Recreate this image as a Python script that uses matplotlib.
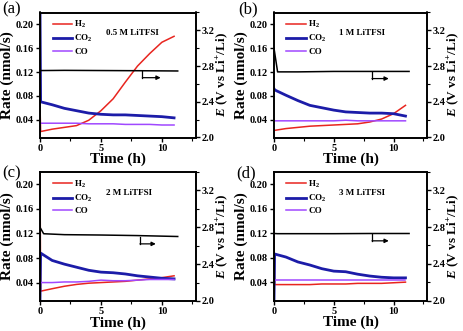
import matplotlib
matplotlib.use("Agg")
import matplotlib.pyplot as plt
from matplotlib.ticker import MultipleLocator, FormatStrFormatter

plt.rcParams['font.family'] = 'serif'
plt.rcParams['font.serif'] = ['Liberation Serif', 'DejaVu Serif']
plt.rcParams['font.weight'] = 'bold'
plt.rcParams['mathtext.fontset'] = 'custom'
plt.rcParams['mathtext.rm'] = 'Liberation Serif:bold'
plt.rcParams['mathtext.it'] = 'Liberation Serif:bold:italic'
plt.rcParams['mathtext.bf'] = 'Liberation Serif:bold'

# time grid for the gas rates (first point = initial spike at t=0)
hours = [0.0, 0.05, 1, 2, 3, 4, 5, 6, 7, 8, 9, 10, 11]
# time grid for the potential curves
volt_hours = [0.0, 0.3, 2, 5, 8, 11.3]

panel_labels = ["(a)", "(b)", "(c)", "(d)"]
conc_labels = ["0.5 M LiTFSI", "1 M LiTFSI", "2 M LiTFSI", "3 M LiTFSI"]

h2_a = [0.065, 0.020, 0.024, 0.027, 0.030, 0.039, 0.055, 0.075, 0.103, 0.130, 0.151, 0.170, 0.180]
co2_a = [0.230, 0.070, 0.065, 0.059, 0.055, 0.051, 0.049, 0.048, 0.048, 0.047, 0.046, 0.045, 0.043]
co_a = [0.034, 0.034, 0.034, 0.034, 0.034, 0.033, 0.033, 0.033, 0.032, 0.032, 0.032, 0.031, 0.031]
volt_a = [2.75, 2.75, 2.752, 2.75, 2.748, 2.745]

h2_b = [0.022, 0.022, 0.025, 0.027, 0.029, 0.030, 0.031, 0.032, 0.033, 0.036, 0.041, 0.050, 0.064]
co2_b = [0.092, 0.090, 0.081, 0.072, 0.064, 0.060, 0.056, 0.053, 0.052, 0.051, 0.051, 0.050, 0.046]
co_b = [0.038, 0.038, 0.038, 0.038, 0.038, 0.038, 0.038, 0.039, 0.038, 0.038, 0.038, 0.038, 0.038]
volt_b = [3.0, 2.735, 2.735, 2.74, 2.74, 2.74]

h2_c = [0.230, 0.026, 0.030, 0.034, 0.037, 0.039, 0.040, 0.041, 0.042, 0.044, 0.046, 0.048, 0.051]
co2_c = [0.010, 0.088, 0.076, 0.070, 0.065, 0.060, 0.057, 0.056, 0.054, 0.051, 0.049, 0.047, 0.046]
co_c = [0.040, 0.040, 0.040, 0.041, 0.041, 0.042, 0.044, 0.043, 0.043, 0.044, 0.045, 0.045, 0.045]
volt_c = [2.80, 2.73, 2.72, 2.716, 2.71, 2.70]

h2_d = [0.125, 0.036, 0.036, 0.036, 0.036, 0.037, 0.037, 0.037, 0.038, 0.038, 0.038, 0.039, 0.040]
co2_d = [0.010, 0.086, 0.081, 0.073, 0.068, 0.062, 0.058, 0.057, 0.053, 0.050, 0.048, 0.047, 0.047]
co_d = [0.043, 0.043, 0.043, 0.043, 0.043, 0.043, 0.043, 0.043, 0.043, 0.043, 0.043, 0.043, 0.043]
volt_d = [2.73, 2.728, 2.728, 2.728, 2.73, 2.73]

h2_all = [h2_a, h2_b, h2_c, h2_d]
co2_all = [co2_a, co2_b, co2_c, co2_d]
co_all = [co_a, co_b, co_c, co_d]
volt_all = [volt_a, volt_b, volt_c, volt_d]

RED = '#e8251f'
BLUE = '#1c1ca8'
PURPLE = '#a048ff'

W, H = 464, 331
boxes = [(40, 12.5, 156, 125), (274, 12.5, 153, 125),
         (40, 172, 156, 129), (274, 172, 153, 128.5)]
arrows = [(8.4, 2.74, 2.67, 9.9), (8.2, 2.73, 2.66, 9.6),
          (8.2, 2.69, 2.62, 9.5), (8.2, 2.72, 2.65, 9.6)]
letter_pos = [(2, 1), (238, 1), (2, 165), (236, 165)]

fig = plt.figure(figsize=(W / 100, H / 100), dpi=100)

for i in range(4):
    x0, y0, w, h = boxes[i]
    ax = fig.add_axes([x0 / W, 1 - (y0 + h) / H, w / W, h / H])
    ax2 = ax.twinx()

    ax.plot(hours, h2_all[i], color=RED, lw=1.1, label='H$_2$')
    ax.plot(hours, co2_all[i], color=BLUE, lw=2.0, label='CO$_2$')
    ax.plot(hours, co_all[i], color=PURPLE, lw=1.1, label='CO')
    ax2.plot(volt_hours, volt_all[i], color='black', lw=1.1)

    # arrow pointing to the right axis
    ax_x, v_top, v_bot, ax_end = arrows[i]
    ax2.plot([ax_x, ax_x], [v_top, v_bot], color='black', lw=0.9)
    ax2.annotate('', xy=(ax_end, v_bot), xytext=(ax_x, v_bot),
                 arrowprops=dict(arrowstyle='-|>', color='black', lw=0.9,
                                 mutation_scale=6, shrinkA=0, shrinkB=0))

    ax.set_xlim(0, 12.8)
    ax.set_ylim(0.01, 0.22)
    ax2.set_ylim(2.0, 3.4)
    ax.set_xticks([0, 5, 10])
    ax.xaxis.set_minor_locator(MultipleLocator(2.5))
    ax.set_yticks([0.04, 0.08, 0.12, 0.16, 0.20])
    ax.yaxis.set_major_formatter(FormatStrFormatter('%.2f'))
    ax2.set_yticks([2.0, 2.4, 2.8, 3.2])
    ax2.yaxis.set_minor_locator(MultipleLocator(0.2))
    ax2.yaxis.set_major_formatter(FormatStrFormatter('%.1f'))

    ax.tick_params(axis='both', which='major', direction='out', length=3,
                   width=1, labelsize=7.5, pad=1.5)
    ax.tick_params(axis='x', which='minor', direction='out', length=1.8, width=0.8)
    ax2.tick_params(axis='y', which='major', direction='out', length=3,
                    width=1, labelsize=7.5, pad=1)
    ax2.tick_params(axis='y', which='minor', direction='out', length=1.8, width=0.8)
    for sp in ax.spines.values():
        sp.set_linewidth(1.2)
    for sp in ax2.spines.values():
        sp.set_linewidth(1.2)

    ax.set_xlabel('Time (h)', fontsize=11, fontweight='bold', labelpad=0)
    ax.set_ylabel('Rate (nmol/s)', fontsize=11, fontweight='bold', labelpad=1)
    ax2.set_ylabel(r'$\mathit{E}$ (V vs Li$^{+}$/Li)', fontsize=9.5,
                   fontweight='bold', labelpad=0)

    ax.legend(loc='upper left', bbox_to_anchor=(0.04, 1.0), frameon=False,
              fontsize=6.5, handlelength=2.2, handletextpad=0.2,
              labelspacing=0.35, borderaxespad=0.3)
    ax.text(5.4, 0.186, conc_labels[i], fontsize=6.5, fontweight='bold',
            va='center', ha='left')

    lx, ly = letter_pos[i]
    fig.text(lx / W, 1 - ly / H, panel_labels[i], fontsize=12,
             fontweight='normal', va='top', ha='left')

fig.savefig('out.png', dpi=100)
